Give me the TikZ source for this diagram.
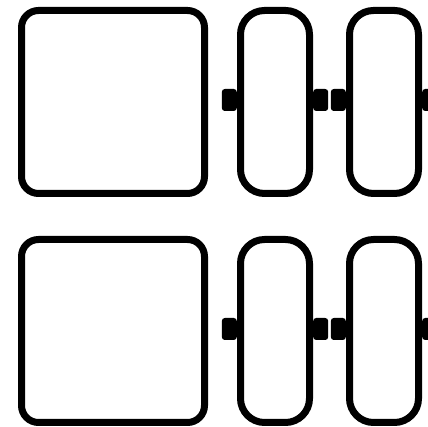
\documentclass[tikz,border=0pt]{standalone}
\usepackage{tikz}
\usetikzlibrary{positioning}

\begin{document}
\begin{tikzpicture}[x=1pt,y=1pt,
		bigbox/.style={draw, rectangle, line width=7pt, rounded corners=17pt, minimum width=183pt, minimum height=183pt, inner sep=0pt},
		slot/.style={draw, rectangle, line width=7pt, rounded corners=24pt, minimum width=69pt, minimum height=183pt, inner sep=0pt},
		pin/.style={fill, rectangle, rounded corners=3pt, minimum width=15pt, minimum height=22pt, inner sep=0pt}]
	\useasboundingbox (0,0) rectangle (428,427);
	% top row
	\node[bigbox] (big1) at (113,325) {};
	\node[slot] (slot1a) [right of=big1, node distance=162pt] {};
	\node[slot] (slot1b) [right of=slot1a, node distance=109pt] {};
	% bottom row
	\node[bigbox] (big2) at (113,96) {};
	\node[slot] (slot2a) [right of=big2, node distance=162pt] {};
	\node[slot] (slot2b) [right of=slot2a, node distance=109pt] {};
	% pins
	\foreach \s in {slot1a,slot1b,slot2a,slot2b} {
		\node[pin, anchor=east] (\s-l) at ([yshift=2pt]\s.west) {};
		\node[pin, anchor=west] (\s-r) at ([yshift=2pt]\s.east) {};
	}
\end{tikzpicture}
\end{document}
